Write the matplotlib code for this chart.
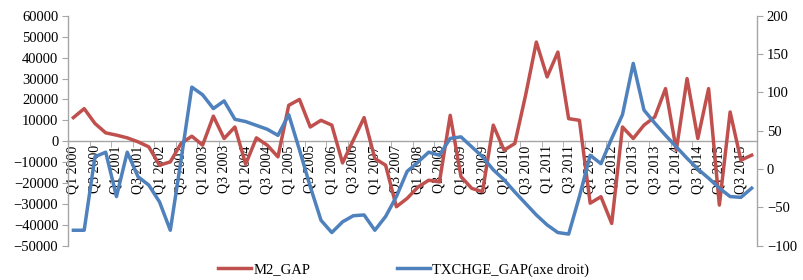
import matplotlib
matplotlib.use("Agg")
import matplotlib.pyplot as plt
import numpy as np

plt.rcParams['font.family'] = ['Liberation Serif', 'DejaVu Serif']

quarters = [f"Q{q} {y}" for y in range(2000, 2016) for q in (1, 2, 3, 4)]

m2_gap = [11300, 15600, 8500, 4000, 2900, 1600, -300, -2700, -11500, -9900,
          -1100, 2400, -1900, 12000, 1300, 6800, -11000, 1600, -1900, -7500,
          17200, 20000, 6800, 10000, 7700, -10400, 500, 11300, -8300, -11500,
          -31400, -27400, -22000, -18700, -19500, 12400, -17000, -22600, -24200, 7700,
          -4300, -1100, 22000, 47500, 30800, 42700, 10800, 10000, -29700, -26600,
          -39400, 6800, 1300, 7700, 11600, 25200, -4300, 30000, 1300, 25200,
          -30600, 14000, -9100, -6700]

txchge_gap = [-80, -80, 16, 22, -36, 22, -10, -21, -43, -80,
              12, 107, 97, 79, 89, 65, 62, 57, 52, 44,
              71, 25, -23, -67, -83, -69, -61, -60, -80, -62,
              -36, -3, 9, 22, 18, 40, 42, 29, 16, -1,
              -14, -30, -45, -60, -73, -83, -85, -36, 18, 7,
              40, 71, 138, 77, 60, 44, 29, 14, 0, -12,
              -25, -36, -37, -25]

red = '#C0504D'
blue = '#4F81BD'
gray = '#A6A6A6'

fig = plt.figure(figsize=(8.04, 2.8), dpi=100)
ax = fig.add_axes([0.0846, 0.123, 0.857, 0.820])
ax2 = ax.twinx()

x = np.arange(len(quarters))
l1, = ax.plot(x, m2_gap, color=red, lw=2.5, label='M2_GAP', zorder=3)
l2, = ax2.plot(x, txchge_gap, color=blue, lw=2.5, label='TXCHGE_GAP(axe droit)', zorder=3)

ax.set_xlim(-0.5, len(quarters) - 0.5)
ax.set_ylim(-50000, 60000)
ax.set_yticks(np.arange(-50000, 60001, 10000))
ax2.set_ylim(-100, 200)
ax2.set_yticks(np.arange(-100, 201, 50))

for a in (ax, ax2):
    a.spines['top'].set_visible(False)
    a.patch.set_visible(False)
ax2.spines['bottom'].set_visible(False)
ax2.spines['left'].set_visible(False)
ax.spines['right'].set_visible(False)
ax.spines['left'].set_color(gray)
ax2.spines['right'].set_color(gray)
ax.spines['bottom'].set_position(('data', 0))
ax.spines['bottom'].set_color(gray)
for s in ('left', 'bottom'):
    ax.spines[s].set_linewidth(1)
ax2.spines['right'].set_linewidth(1)

ax.set_xticks(x[::2])
ax.set_xticklabels(quarters[::2], rotation=90, fontsize=10, va='top', ha='center')
ax.set_xticks(np.arange(-0.5, len(quarters), 2), minor=True)
ax.tick_params(axis='x', which='major', length=0, pad=3)
ax.tick_params(axis='x', which='minor', length=4, color=gray, direction='out')
ax.tick_params(axis='y', length=4, color=gray, labelsize=10.5, pad=3)
ax2.tick_params(axis='y', length=4, color=gray, labelsize=10.5, pad=3)
for lab in ax.get_xticklabels():
    lab.set_zorder(1)

fig.legend([l1, l2], ['M2_GAP', 'TXCHGE_GAP(axe droit)'], loc='lower center',
           bbox_to_anchor=(0.502, -0.035), ncol=2, frameon=False, fontsize=10.5,
           handlelength=2.3, columnspacing=5.9, handletextpad=0.15)

fig.savefig('out.png', dpi=100)
